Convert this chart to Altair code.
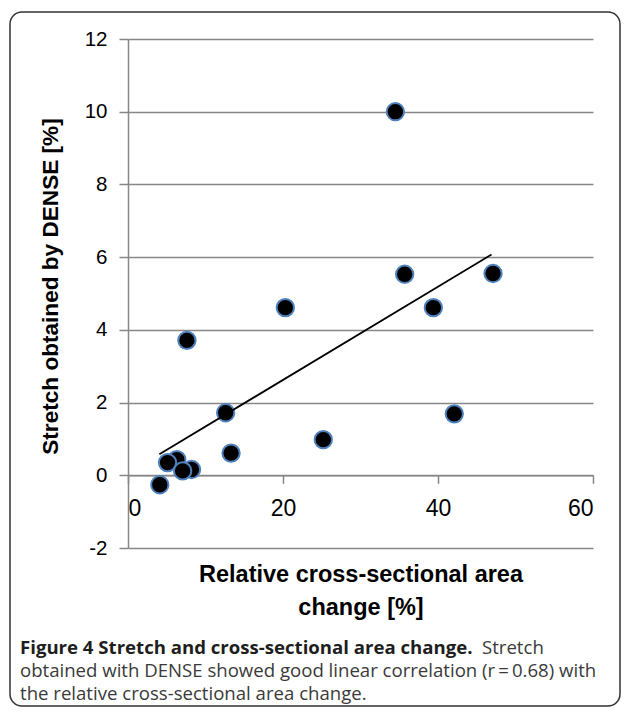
import altair as alt
import pandas as pd

# ---- data ----
x_change = [34.5, 35.7, 47.1, 20.3, 39.4, 7.6, 12.6, 42.1, 25.2, 13.3, 6.3, 5.1, 8.2, 7.05, 4.1]
y_stretch = [10.0, 5.53, 5.55, 4.61, 4.61, 3.71, 1.72, 1.69, 0.98, 0.61, 0.43, 0.35, 0.16, 0.12, -0.26]
trend_x = [4.05, 46.9]
trend_y = [0.58, 6.07]
x_ticks = [0, 20, 40, 60]
y_ticks = [-2, 0, 2, 4, 6, 8, 10, 12]
x_title = ["Relative cross-sectional area", "change [%]"]
y_title = "Stretch obtained by DENSE [%]"
caption_bold = "Figure 4 Stretch and cross-sectional area change."
caption_rest = "Stretch"
caption_line2 = "obtained with DENSE showed good linear correlation (r\u2009=\u20090.68) with"
caption_line3 = "the relative cross-sectional area change."

W, H = 465, 509
Y_MIN, Y_MAX = -2, 12
GRID = "#878787"
AX_FONT = "Liberation Sans"
CAP_FONT = "Open Sans"
CAP_SIZE = 18.6

pts = pd.DataFrame({"x": x_change, "y": y_stretch})
trend = pd.DataFrame({"x": trend_x, "y": trend_y})

x_scale = alt.Scale(domain=[0, 60], nice=False)
y_scale = alt.Scale(domain=[Y_MIN, Y_MAX], nice=False, zero=False)

x_axis = alt.Axis(
    values=x_ticks, grid=False, domainColor=GRID, domainWidth=1.5,
    tickColor=GRID, tickWidth=1.5, tickSize=8,
    labelFont=AX_FONT, labelFontSize=23, labelColor="black", labelPadding=14,
    offset=-(H * (0 - Y_MIN) / (Y_MAX - Y_MIN)),
    title=x_title, titleFont=AX_FONT, titleFontSize=23.5, titleFontWeight="bold",
    titleColor="black", titleLineHeight=33, titleX=W / 2, titleY=106,
    titleAlign="center", titleBaseline="alphabetic",
)
y_axis = alt.Axis(
    values=y_ticks, grid=True, gridColor=GRID, gridWidth=1.5,
    domainColor=GRID, domainWidth=1.5, tickColor=GRID, tickWidth=1.5, tickSize=9,
    labelFont=AX_FONT, labelFontSize=20.5, labelColor="black", labelPadding=12,
    labelExpr="'' + datum.value",
    title=y_title, titleFont=AX_FONT, titleFontSize=22.6, titleFontWeight="bold",
    titleColor="black", titleAngle=270, titleX=-71, titleY=247,
    titleAlign="center", titleBaseline="alphabetic",
)

points = alt.Chart(pts).mark_point(
    shape="circle", filled=True, fill="black", stroke="#4f81bd",
    strokeWidth=2, size=300, opacity=1,
).encode(
    x=alt.X("x:Q", scale=x_scale, axis=x_axis),
    y=alt.Y("y:Q", scale=y_scale, axis=y_axis),
)

line = alt.Chart(trend).mark_line(color="black", strokeWidth=1.8).encode(
    x=alt.X("x:Q"),
    y=alt.Y("y:Q"),
)

one = pd.DataFrame({"k": [0]})
border = alt.Chart(one).mark_rect(
    fill="transparent", stroke="#333333", strokeWidth=1.5, cornerRadius=12
).encode(
    x=alt.value(-118), x2=alt.value(492), y=alt.value(-27), y2=alt.value(667)
)


def text_layer(txt, xpx, ypx, bold=False, color="#3a3a3a"):
    kw = dict(align="left", baseline="alphabetic", font=CAP_FONT,
              fontSize=CAP_SIZE, color=color)
    if bold:
        kw["fontWeight"] = "bold"
    return alt.Chart(pd.DataFrame({"t": [txt]})).mark_text(**kw).encode(
        text="t:N", x=alt.value(xpx), y=alt.value(ypx)
    )


cap_b = text_layer(caption_bold, -108, 615, bold=True, color="#1e1e1e")
cap_r = text_layer(caption_rest, 354, 615)
cap_2 = text_layer(caption_line2, -108, 638)
cap_3 = text_layer(caption_line3, -108, 661)

chart = alt.layer(points, line, border, cap_b, cap_r, cap_2, cap_3).properties(
    width=W, height=H,
    autosize=alt.AutoSizeParams(type="none"),
    padding={"left": 120, "top": 31, "right": 28, "bottom": 160},
    background="white",
).configure_view(stroke=None)

chart.save("out.html", embed_options={"renderer": "svg", "actions": False})
